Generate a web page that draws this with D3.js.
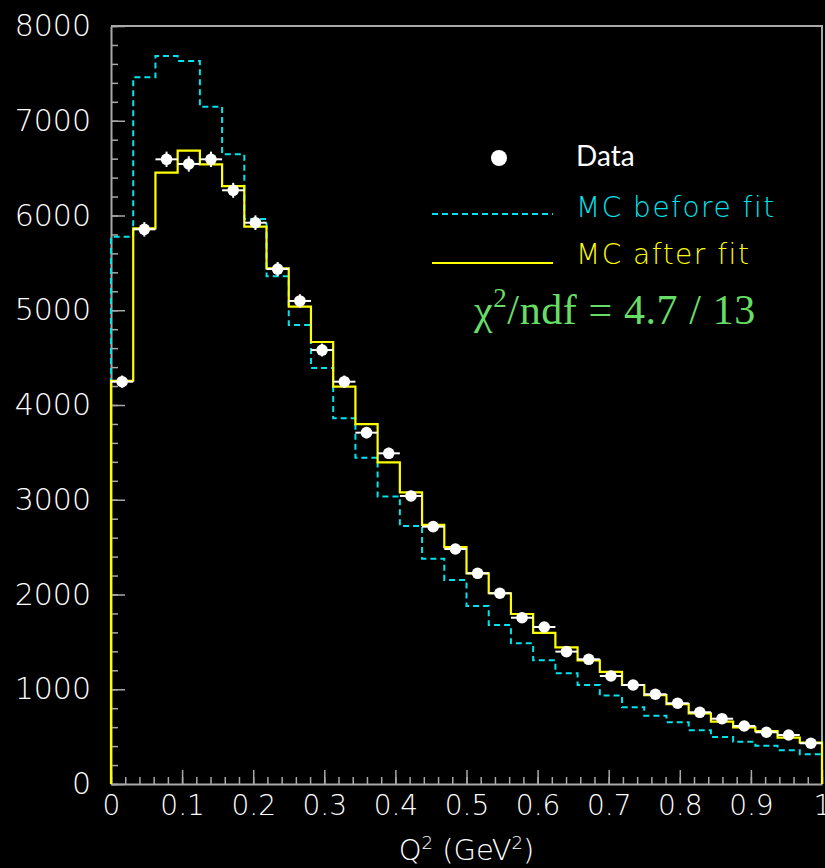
<!DOCTYPE html>
<html>

<head>
  <meta charset="utf-8">
  <title>Q2 histogram</title>
  <script src="https://cdn.jsdelivr.net/npm/d3@7"></script>
  <style>
    html, body { margin: 0; padding: 0; background: #000; }
    svg { display: block; }
  </style>
</head>

<body>
  <script>
    // Størrelse
    const w = 825;
    const h = 868;

    // Bins i Q^2 (32 bins fra 0 til 1)
    const nBins = 32;
    const binEdges = d3.range(nBins + 1).map(i => i / nBins);

    // Data-punkter og fejl
    const dataValues = [4246, 5854, 6593, 6544, 6593, 6266, 5924, 5435, 5098, 4580, 4246, 3708,
      3490, 3040, 2716, 2480, 2224, 2013, 1755, 1657, 1397, 1316, 1140, 1045, 947, 852, 757,
      689, 612, 546, 517, 430];
    const dataErrors = [65, 76, 81, 81, 81, 79, 77, 74, 71, 68, 65, 61, 59, 55, 52, 50, 47, 45,
      42, 41, 37, 36, 34, 32, 31, 29, 28, 26, 25, 23, 23, 21];

    // MC foer og efter fit
    const mcBefore = [5777, 7458, 7683, 7631, 7148, 6646, 5963, 5358, 4844, 4391, 3859, 3444,
      3033, 2723, 2378, 2153, 1879, 1678, 1485, 1306, 1168, 1045, 934, 809, 721, 651, 567, 496,
      446, 404, 356, 313];
    const mcAfter = [4256, 5865, 6452, 6684, 6540, 6311, 5882, 5443, 5038, 4665, 4193, 3799,
      3395, 3078, 2735, 2500, 2224, 2013, 1794, 1594, 1443, 1305, 1183, 1045, 939, 844, 746,
      658, 598, 559, 489, 436];

    // Tick labels
    const xTicks = [0, 0.1, 0.2, 0.3, 0.4, 0.5, 0.6, 0.7, 0.8, 0.9, 1];
    const xTickLabels = ["0", "0.1", "0.2", "0.3", "0.4", "0.5", "0.6", "0.7", "0.8", "0.9", "1"];
    const yTicks = [0, 1000, 2000, 3000, 4000, 5000, 6000, 7000, 8000];

    const cyan = "#00e4ee";
    const yellow = "#ffff00";
    const frameColor = "#a8a8a8";

    // Skalaer
    const xScale = d3.scaleLinear().domain([0, 1]).range([111, 822]);
    const yScale = d3.scaleLinear().domain([0, 8000]).range([784, 26]);

    const svg = d3.select("body").append("svg")
      .attr("width", w)
      .attr("height", h);

    svg.append("rect").attr("width", w).attr("height", h).attr("fill", "#000");

    // Minor ticks foerst (uden labels)
    svg.append("g")
      .attr("transform", "translate(0,784)")
      .call(d3.axisBottom(xScale).tickValues(d3.range(0, 51).map(i => i / 50))
        .tickSizeInner(-7).tickSizeOuter(0).tickFormat(""))
      .call(g => g.select(".domain").remove());
    svg.append("g")
      .attr("transform", "translate(111,0)")
      .call(d3.axisLeft(yScale).tickValues(d3.range(0, 41).map(i => i * 200))
        .tickSizeInner(-7).tickSizeOuter(0).tickFormat(""))
      .call(g => g.select(".domain").remove());

    // Hovedakser
    const xAxis = svg.append("g")
      .attr("transform", "translate(0,784)")
      .call(d3.axisBottom(xScale).tickValues(xTicks)
        .tickSizeInner(-14).tickSizeOuter(0).tickPadding(11)
        .tickFormat((d, i) => xTickLabels[i]));
    const yAxis = svg.append("g")
      .attr("transform", "translate(111,0)")
      .call(d3.axisLeft(yScale).tickValues(yTicks)
        .tickSizeInner(-14).tickSizeOuter(0).tickPadding(20)
        .tickFormat(d3.format("d")));

    svg.selectAll(".tick line").attr("stroke", frameColor).attr("stroke-width", 1.5);
    svg.selectAll(".domain").attr("stroke", frameColor).attr("stroke-width", 2);
    svg.selectAll(".tick text")
      .attr("fill", "#fff")
      .attr("font-family", "DejaVu Sans")
      .attr("font-weight", 200);
    xAxis.selectAll(".tick text").attr("font-size", 28);
    yAxis.selectAll(".tick text").attr("font-size", 30);

    // Ramme (top og hoejre)
    svg.append("path")
      .attr("d", `M${xScale(0)},${yScale(8000)}H${xScale(1)}V${yScale(0)}`)
      .attr("fill", "none")
      .attr("stroke", frameColor)
      .attr("stroke-width", 2);

    // Histogram som trappe-linje
    function histPoints(vals) {
      const pts = [[0, 0]];
      vals.forEach((v, i) => pts.push([binEdges[i], v]));
      pts.push([1, vals[vals.length - 1]]);
      pts.push([1, 0]);
      return pts;
    }
    const stepLine = d3.line()
      .x(d => xScale(d[0]))
      .y(d => yScale(d[1]))
      .curve(d3.curveStepAfter);

    svg.append("path")
      .attr("d", stepLine(histPoints(mcBefore)))
      .attr("fill", "none")
      .attr("stroke", cyan)
      .attr("stroke-width", 2)
      .attr("stroke-dasharray", "6,4");

    svg.append("path")
      .attr("d", stepLine(histPoints(mcAfter)))
      .attr("fill", "none")
      .attr("stroke", yellow)
      .attr("stroke-width", 2.2);

    // Data med fejlstreger
    const pts = svg.append("g").selectAll("g")
      .data(dataValues)
      .enter()
      .append("g");
    pts.append("line")
      .attr("x1", (d, i) => xScale(binEdges[i]))
      .attr("x2", (d, i) => xScale(binEdges[i + 1]))
      .attr("y1", d => yScale(d))
      .attr("y2", d => yScale(d))
      .attr("stroke", "#fff")
      .attr("stroke-width", 2);
    pts.append("line")
      .attr("x1", (d, i) => xScale((binEdges[i] + binEdges[i + 1]) / 2))
      .attr("x2", (d, i) => xScale((binEdges[i] + binEdges[i + 1]) / 2))
      .attr("y1", (d, i) => yScale(d + dataErrors[i]))
      .attr("y2", (d, i) => yScale(d - dataErrors[i]))
      .attr("stroke", "#fff")
      .attr("stroke-width", 2);
    pts.append("circle")
      .attr("cx", (d, i) => xScale((binEdges[i] + binEdges[i + 1]) / 2))
      .attr("cy", d => yScale(d))
      .attr("r", 5.8)
      .attr("fill", "#fff");

    // Akse-titel
    const xTitle = svg.append("text")
      .attr("x", (xScale(0) + xScale(1)) / 2)
      .attr("y", 860)
      .attr("text-anchor", "middle")
      .attr("fill", "#fff")
      .attr("font-family", "DejaVu Sans")
      .attr("font-weight", 200)
      .attr("font-size", 29);
    xTitle.append("tspan").text("Q");
    xTitle.append("tspan").attr("dy", -11).attr("font-size", 18).text("2");
    xTitle.append("tspan").attr("dy", 11).text(" (GeV");
    xTitle.append("tspan").attr("dy", -11).attr("font-size", 18).text("2");
    xTitle.append("tspan").attr("dy", 11).text(")");

    // Legende
    const leg = svg.append("g");
    leg.append("circle").attr("cx", 499).attr("cy", 158).attr("r", 8).attr("fill", "#fff");
    leg.append("text").attr("x", 576).attr("y", 166)
      .attr("fill", "#fff").attr("font-family", "Lato").attr("font-size", 28)
      .text("Data");
    leg.append("line").attr("x1", 432).attr("x2", 553).attr("y1", 214).attr("y2", 214)
      .attr("stroke", cyan).attr("stroke-width", 2).attr("stroke-dasharray", "6,4");
    leg.append("text").attr("x", 576).attr("y", 217)
      .attr("fill", cyan).attr("font-family", "DejaVu Sans").attr("font-weight", 200)
      .attr("font-size", 28).attr("letter-spacing", 1.5)
      .text("MC before fit");
    leg.append("line").attr("x1", 432).attr("x2", 553).attr("y1", 263).attr("y2", 263)
      .attr("stroke", yellow).attr("stroke-width", 2);
    leg.append("text").attr("x", 576).attr("y", 264)
      .attr("fill", yellow).attr("font-family", "DejaVu Sans").attr("font-weight", 200)
      .attr("font-size", 28).attr("letter-spacing", 1.5)
      .text("MC after fit");

    // Chi2
    const chi = svg.append("text")
      .attr("x", 474).attr("y", 324)
      .attr("fill", "#66dd66")
      .attr("font-family", "Liberation Serif")
      .attr("font-size", 42)
      .attr("letter-spacing", 0.6);
    chi.append("tspan").text("χ");
    chi.append("tspan").attr("dy", -17).attr("font-size", 27).text("2");
    chi.append("tspan").attr("dy", 17).text("/ndf = 4.7 / 13");
  </script>
</body>

</html>
